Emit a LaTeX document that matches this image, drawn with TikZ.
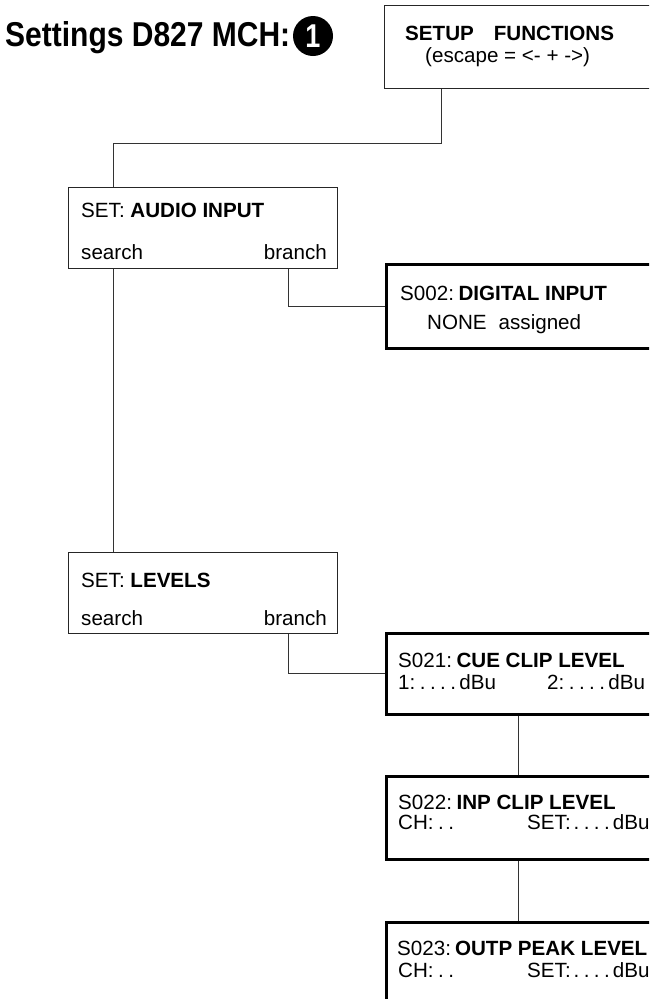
\documentclass[tikz,border=0pt]{standalone}
\usepackage{fontspec}
\setmainfont{Liberation Sans}
\newcommand{\dotsrow}{.\hspace{4.4pt}.\hspace{4.4pt}.\hspace{4.4pt}.}
\begin{document}
\begin{tikzpicture}[x=1pt,y=1pt,
  thinbox/.style={draw=black!85, line width=1pt, inner sep=0pt, anchor=north west, rectangle},
  thickbox/.style={draw=black, line width=2.6pt, inner sep=0pt, anchor=north west, rectangle},
  txt/.style={anchor=base west, inner sep=0pt, font=\fontsize{20.6}{24}\selectfont},
  txtr/.style={anchor=base east, inner sep=0pt, font=\fontsize{20.6}{24}\selectfont},
  conn/.style={draw=black!80, line width=0.9pt}]
\clip (0,0) rectangle (649,-999);
\fill[white] (0,0) rectangle (649,-999);
% title
\node[anchor=base west, inner sep=0pt, font=\fontsize{30}{36}\selectfont\bfseries] (title) at (5,-46) {\scalebox{1}[1.15]{Settings D827 MCH:}};
\node[circle, fill=black, minimum size=40pt, inner sep=0pt, text=white, font=\fontsize{30}{36}\selectfont\bfseries] (num) at (313,-36) {\scalebox{0.9}[1.1]{1}};
% boxes
\node[thinbox, minimum width=280pt, minimum height=83pt] (setup) at (384,-5) {};
\node[thinbox, minimum width=269pt, minimum height=81pt] (audio) at (68,-187) {};
\node[thickbox, minimum width=280pt, minimum height=84pt] (digital) at (385,-263) {};
\node[thinbox, minimum width=269pt, minimum height=81pt] (levels) at (68,-552) {};
\node[thickbox, minimum width=280pt, minimum height=81pt] (cue) at (385,-632) {};
\node[thickbox, minimum width=280pt, minimum height=83pt] (inp) at (385,-775) {};
\node[thickbox, minimum width=280pt, minimum height=82pt] (outp) at (385,-921) {};
% texts
\node[txt] (t1) at (405,-40) {\textbf{SETUP\hspace{20pt}FUNCTIONS}};
\node[txt] (t2) at (425,-62) {(escape = <- + ->)};
\node[txt] (t3) at (81,-217) {SET: \textbf{AUDIO INPUT}};
\node[txt] (t4) at (81,-259) {search};
\node[txtr] (t5) at (327,-259) {branch};
\node[txt] (t6) at (400,-300) {S002:\hspace{4.5pt}\textbf{DIGITAL INPUT}};
\node[txt] (t7) at (427,-329) {NONE\hspace{12pt}assigned};
\node[txt] (t8) at (81,-587) {SET: \textbf{LEVELS}};
\node[txt] (t9) at (81,-625) {search};
\node[txtr] (t10) at (327,-625) {branch};
\node[txt] (t11) at (398,-667) {S021:\hspace{4.5pt}\textbf{CUE CLIP LEVEL}};
\node[txt] (t12) at (398,-689) {1:\hspace{4.5pt}\dotsrow\hspace{3.5pt}dBu};
\node[txt] (t13) at (547,-689) {2:\hspace{4.5pt}\dotsrow\hspace{3.5pt}dBu};
\node[txt] (t14) at (398,-809) {S022:\hspace{4.5pt}\textbf{INP CLIP LEVEL}};
\node[txt] (t15) at (398,-829) {CH:\hspace{4.5pt}.\hspace{4.5pt}.};
\node[txt] (t16) at (527,-829) {SET:\hspace{3pt}\dotsrow\hspace{3pt}dBu};
\node[txt] (t17) at (397,-955) {S023:\hspace{4pt}\textbf{OUTP PEAK LEVEL}};
\node[txt] (t18) at (398,-977) {CH:\hspace{4.5pt}.\hspace{4.5pt}.};
\node[txt] (t19) at (527,-977) {SET:\hspace{3pt}\dotsrow\hspace{3pt}dBu};
% connectors
\draw[conn] ([xshift=57pt]setup.south west) -- ++(0,-54) -| ([xshift=45pt]audio.north west);
\draw[conn] ([xshift=45pt]audio.south west) -- ([xshift=45pt]levels.north west);
\draw[conn] ([xshift=220pt]audio.south west) |- (digital.west);
\draw[conn] ([xshift=220pt]levels.south west) |- (cue.west);
\draw[conn] ([xshift=133pt]cue.south west) -- ([xshift=133pt]inp.north west);
\draw[conn] ([xshift=133pt]inp.south west) -- ([xshift=133pt]outp.north west);
\end{tikzpicture}
\end{document}
